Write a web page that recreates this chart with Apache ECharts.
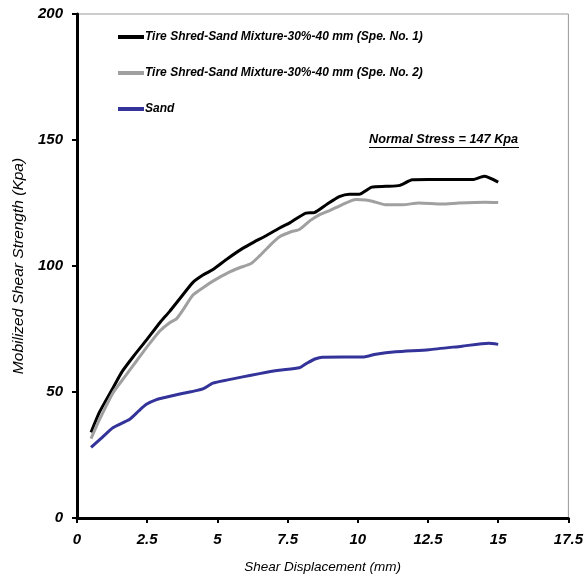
<!DOCTYPE html>
<html>
<head>
<meta charset="utf-8">
<script src="https://cdn.jsdelivr.net/npm/echarts@6/dist/echarts.min.js"></script>
<style>
  html, body { margin: 0; padding: 0; background: #fff; }
  #chart { width: 586px; height: 579px; }
</style>
</head>
<body>
<div id="chart"></div>
<script>
// values: [displacement mm, strength kPa]
const spec1 = [[0.5,34],[0.8,42],[1.3,52],[1.6,58],[2.0,64],[2.5,71],[2.95,77.5],[3.3,82],[3.66,87],[4.13,93.5],[4.5,96.5],[4.84,98.6],[5.37,103],[5.9,107],[6.3,109.5],[6.73,112],[7.2,115],[7.56,117],[8.15,121],[8.45,121.2],[8.9,124.5],[9.34,127.5],[9.7,128.5],[10.05,128.5],[10.5,131.3],[11.0,131.6],[11.5,132],[11.94,134.2],[12.5,134.3],[13.5,134.3],[14.1,134.3],[14.5,135.6],[15,133.3]];
const spec2 = [[0.5,31.5],[0.8,39],[1.29,49.8],[1.7,56],[2.12,62.3],[2.5,68],[2.95,74.2],[3.3,77.5],[3.54,79],[3.8,83],[4.13,88.5],[4.5,91.5],[4.84,94],[5.37,97.3],[5.79,99.3],[6.2,101],[6.5,104],[6.9,108.5],[7.2,111.5],[7.6,113.5],[7.92,114.5],[8.3,118],[8.63,120.3],[9.0,122],[9.45,124.4],[9.93,126.4],[10.28,126.2],[10.52,125.7],[10.99,124.3],[11.58,124.3],[12.18,125],[13,124.6],[13.6,125],[14.54,125.3],[15,125.2]];
const sand = [[0.5,28],[0.9,32],[1.29,35.9],[1.88,39.2],[2.2,42.5],[2.47,45.1],[2.83,47],[3.2,48],[3.66,49.2],[4.1,50.2],[4.48,51.2],[4.84,53.5],[5.37,54.8],[5.9,56],[6.5,57.3],[7.2,58.6],[7.92,59.6],[8.2,61.5],[8.5,63.2],[8.74,63.8],[10.22,63.9],[10.64,65],[11.35,66],[12.53,66.8],[13.71,68.2],[14.66,69.3],[15,68.9]];
const seriesNames = ['Tire Shred-Sand Mixture-30%-40 mm (Spe. No. 1)', 'Tire Shred-Sand Mixture-30%-40 mm (Spe. No. 2)', 'Sand'];
const note = 'Normal Stress = 147 Kpa';

const font = 'Liberation Sans, Arial, sans-serif';
const chart = echarts.init(document.getElementById('chart'));

const option = {
  animation: false,
  grid: {
    left: 77, right: 16, top: 14, bottom: 60,
    show: true, borderColor: '#999', borderWidth: 1
  },
  legend: {
    orient: 'vertical',
    left: 113, top: 26,
    itemGap: 24,
    itemWidth: 26, itemHeight: 4,
    icon: 'rect',
    textStyle: { fontFamily: font, fontSize: 12, fontWeight: 'bold', fontStyle: 'italic', color: '#000', padding: [0, 0, 0, -4] },
    data: seriesNames
  },
  xAxis: {
    type: 'value', min: 0, max: 17.5, interval: 2.5,
    name: 'Shear Displacement (mm)', nameLocation: 'middle', nameGap: 42,
    nameTextStyle: { fontFamily: font, fontSize: 13.5, fontStyle: 'italic', color: '#000' },
    axisLine: { lineStyle: { color: '#000', width: 3 } },
    axisTick: { lineStyle: { color: '#000', width: 2 }, length: 5 },
    axisLabel: { fontFamily: font, fontSize: 15, fontWeight: 'bold', fontStyle: 'italic', color: '#000', margin: 14 },
    splitLine: { show: false }
  },
  yAxis: {
    type: 'value', min: 0, max: 200, interval: 50,
    name: 'Mobilized Shear Strength (Kpa)', nameLocation: 'middle', nameGap: 49,
    nameTextStyle: { fontFamily: font, fontSize: 15.5, fontStyle: 'italic', color: '#000' },
    axisLine: { lineStyle: { color: '#000', width: 3 } },
    axisTick: { lineStyle: { color: '#000', width: 2 }, length: 5 },
    axisLabel: { fontFamily: font, fontSize: 15, fontWeight: 'bold', fontStyle: 'italic', color: '#000', margin: 14 },
    splitLine: { show: false }
  },
  graphic: [
    {
      type: 'text', left: 369, top: 133,
      style: { text: note, fontFamily: font, fontSize: 12.7, fontWeight: 'bold', fontStyle: 'italic', fill: '#000' }
    },
    {
      type: 'line', shape: { x1: 369, y1: 147.5, x2: 519, y2: 147.5 },
      style: { stroke: '#000', lineWidth: 1 }
    }
  ],
  series: [
    { name: seriesNames[0], type: 'line', data: spec1, symbol: 'none', smooth: 0.2, color: '#000000', lineStyle: { width: 3 } },
    { name: seriesNames[1], type: 'line', data: spec2, symbol: 'none', smooth: 0.2, color: '#a0a0a0', lineStyle: { width: 3 } },
    { name: seriesNames[2], type: 'line', data: sand, symbol: 'none', smooth: 0.2, color: '#333399', lineStyle: { width: 3 } }
  ]
};

chart.setOption(option);
</script>
</body>
</html>
